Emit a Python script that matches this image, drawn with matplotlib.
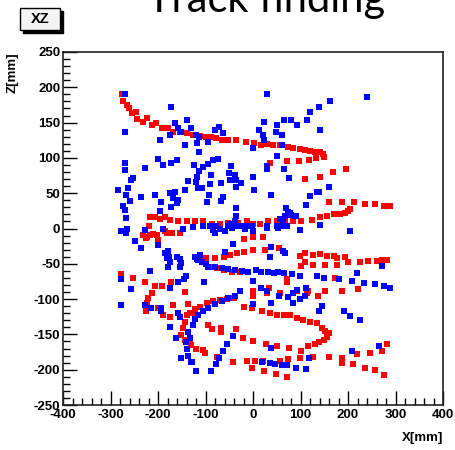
import matplotlib
matplotlib.use('Agg')
import matplotlib.pyplot as plt
from matplotlib.patches import Rectangle
from matplotlib.ticker import MultipleLocator
import numpy as np

plt.rcParams['axes.unicode_minus'] = False

# hits in the XZ plane, (x [mm], z [mm])
red_hits = [
    (-276, 190), (-273, 180), (-265, 175), (-262, 170), (-255, 163), (-246, 165), (-245, 155),
    (-231, 151), (-224, 156), (-213, 147), (-204, 149), (-192, 142), (-178, 142), (-169, 137),
    (-154, 137), (-140, 135), (-126, 133), (-112, 131), (-99, 130), (-88, 129), (-78, 128),
    (-65, 126), (-53, 125), (-36, 125), (-15, 123), (2, 121), (16, 118), (29, 120), (43, 118),
    (57, 118), (74, 116), (85, 114), (99, 113), (109, 111), (120, 110), (131, 109), (141, 108),
    (148, 105), (149, 101),
    (36, 93), (71, 95), (97, 95), (118, 97), (133, 100),
    (109, 70), (142, 73), (168, 80), (196, 84),
    (159, 37), (187, 37), (212, 37), (236, 34), (257, 34), (275, 32), (288, 32),
    (142, 16), (156, 18), (170, 20), (184, 20), (194, 22), (201, 25), (205, 27),
    (-217, 16), (-206, 16), (-196, 14), (-185, 16), (-175, 12), (-157, 10), (-140, 11),
    (-122, 10), (-105, 10), (-87, 6), (-69, 7), (-52, 8), (-31, 8), (-13, 10), (1, 7), (15, 7),
    (32, 10), (50, 10), (67, 12), (85, 11), (102, 11), (124, 12),
    (-231, -9), (-224, -12), (-217, -9), (-210, -8), (-203, -9), (-220, 4), (-199, -19),
    (-182, -7), (-171, -6), (-154, -6), (-225, -14), (-200, -16), (-186, -4),
    (-19, -15), (1, -12), (20, -12),
    (55, -27), (25, -30), (1, -30), (-20, -33), (-34, -35), (-48, -38), (-62, -40), (-80, -42),
    (-98, -42), (-112, -44),
    (-91, -54), (-76, -56), (-62, -59), (-45, -61), (-27, -61),
    (99, -39), (127, -37), (142, -36), (155, -39), (170, -39), (176, -42), (194, -41), (201, -48),
    (226, -48), (243, -46), (261, -46), (272, -44), (282, -44),
    (102, -53), (127, -52), (152, -51), (177, -51), (109, -35), (109, -47),
    (135, -67), (173, -70), (116, -89), (152, -88), (187, -88), (222, -86),
    (71, -71), (71, -76), (34, -84), (1, -89), (1, -96), (29, -91), (57, -91), (92, -89),
    (114, -92), (137, -95),
    (-277, -65), (-253, -70), (-228, -76), (-207, -82), (-191, -81), (-172, -76), (-144, -90),
    (-168, -109), (-137, -107), (-213, -92), (-221, -99), (-223, -106), (-219, -113),
    (-226, -117), (-200, -113), (-189, -122), (-175, -126),
    (-140, -122), (-126, -120), (-144, -132), (-147, -141), (-151, -151), (-144, -158),
    (-130, -165), (-133, -120), (-122, -114), (-112, -111), (-97, -106), (-84, -103),
    (-69, -101), (-55, -100), (-41, -98),
    (-20, -111), (-3, -113), (18, -117), (36, -119), (51, -122), (66, -123), (78, -123),
    (92, -127), (106, -130), (120, -132), (134, -134), (145, -141), (152, -145), (159, -148),
    (156, -153), (149, -158), (138, -161),
    (131, -164), (116, -166), (102, -173), (76, -169), (51, -166), (27, -163), (-1, -159),
    (-22, -155), (-36, -142), (-68, -141), (-68, -147), (-87, -142), (-94, -137),
    (-133, -160), (-119, -170), (-105, -172), (-101, -177),
    (-76, -182), (-43, -189), (-13, -188), (4, -188), (22, -188), (-3, -197), (23, -202),
    (48, -206), (71, -211), (57, -187), (74, -185), (99, -184), (127, -182),
    (159, -182), (187, -184), (187, -190), (211, -192), (236, -197), (257, -201), (275, -208),
    (282, -164), (272, -173), (247, -176), (219, -178),
]

blue_hits = [
    (-270, 191), (30, 191), (240, 186), (163, 180), (-173, 172), (138, 172), (121, 165),
    (-270, 137), (-165, 149), (-158, 142), (-151, 137), (-175, 133), (-140, 154), (-130, 142),
    (-196, 125), (-144, 118), (-80, 139), (-71, 144), (-64, 135), (-120, 133), (-113, 130),
    (-117, 121), (-113, 109), (-94, 123), (-1, 114),
    (66, 154), (79, 154), (93, 147), (113, 154), (51, 147), (23, 151), (140, 139), (48, 137),
    (62, 132), (13, 139), (20, 132), (23, 125), (62, 118),
    (-200, 99), (-189, 90), (-172, 93), (-161, 97), (-270, 93), (-270, 83), (-228, 85),
    (-253, 71), (-256, 69), (-137, 67),
    (-74, 99), (-84, 97), (-95, 92), (-105, 87), (-113, 82), (-117, 73), (-120, 66), (-115, 58),
    (-108, 57), (-91, 63), (-89, 76), (-68, 65), (-47, 88), (-50, 78), (-38, 76), (-36, 69),
    (-26, 65), (-36, 59), (-48, 68), (-124, 90), (-1, 73), (2, 55),
    (51, 102), (30, 88), (30, 84), (65, 84), (76, 71),
    (-284, 55), (-263, 58), (-267, 47), (-235, 44), (-207, 47), (-175, 50), (-165, 52),
    (-168, 43), (-158, 40), (-161, 36), (-172, 31), (-193, 38), (-144, 55), (-260, 39),
    (-274, 32), (-270, 26), (-267, 15), (-196, 25),
    (-92, 47), (-96, 37), (-68, 39), (-64, 44), (-36, 29), (-36, 18), (37, 47),
    (121, 46), (138, 52), (112, 33), (159, 59), (135, 52),
    (69, 29), (78, 22), (91, 18), (67, 18), (64, 12), (74, 24), (81, 19), (88, 17), (57, 14),
    (51, 3), (60, 3), (71, 3), (30, 3), (-3, 3), (-20, 3), (-27, 3), (-43, 7), (-52, 3),
    (-78, 3), (-105, 3), (-126, 2),
    (-91, 3), (-84, -2), (-69, 0), (-80, -6), (-59, -4), (-48, 7), (-38, 10), (-34, 3),
    (-13, 3), (1, -4), (29, 1), (53, 1), (99, -2), (142, 5), (205, -3), (-17, -1), (-45, 1),
    (-277, -4), (-265, -1), (-268, -7), (-228, -2), (-189, 0), (-147, 0),
    (-249, -18), (-235, -27), (-200, -24), (-186, -34), (-179, -32), (-182, -42), (-177, -41),
    (-175, -48), (-179, -55), (-161, -40), (-153, -43), (-151, -49), (-153, -55), (-217, -60),
    (-277, -71), (-256, -86), (-175, -84), (-158, -76), (-146, -71), (-142, -67),
    (-43, -22), (-59, -33), (38, -26), (36, -41), (64, -32), (67, -35),
    (-122, -40), (-115, -45), (-108, -48), (-100, -50), (-112, -38), (-118, -43),
    (-95, -54), (-81, -55), (-66, -56), (-52, -58), (-38, -59), (-24, -60), (-10, -61),
    (7, -59), (17, -61), (31, -61), (45, -63), (53, -61), (66, -63), (83, -65), (99, -67),
    (134, -67),
    (272, -53), (219, -63), (149, -70), (180, -72), (208, -74), (233, -77), (257, -79),
    (275, -81), (289, -84),
    (-103, -76), (-1, -74), (16, -84), (30, -89), (55, -95), (74, -97), (85, -92), (92, -87),
    (99, -100), (85, -105), (112, -84), (109, -95),
    (-27, -89), (-38, -95), (-52, -98), (-66, -103), (-80, -107), (-94, -112), (-105, -117),
    (-115, -122), (-122, -128), (-127, -137), (1, -107), (37, -105),
    (145, -110), (138, -117), (191, -117), (205, -124), (226, -129),
    (-277, -109), (-228, -109), (-214, -112), (-193, -112), (-193, -117), (-158, -120),
    (-153, -126), (-175, -140), (-163, -155), (-137, -147), (-142, -161), (-132, -155),
    (-139, -171), (-137, -180), (-151, -183), (-130, -189),
    (-43, -152), (-54, -164), (-63, -173), (-71, -183), (-78, -192), (-89, -202), (-120, -202),
    (-129, -189),
    (37, -169), (18, -189), (35, -190), (46, -192), (60, -194), (71, -194), (91, -197),
    (112, -199), (118, -183),
    (265, -166), (208, -173),
]

red = np.array(red_hits, dtype=float)
blue = np.array(blue_hits, dtype=float)

fig = plt.figure(figsize=(4.55, 4.5), dpi=100)
ax = fig.add_axes([63/455, 1-405/450, 380/455, 353/450])

ax.plot(red[:, 0], red[:, 1], 's', color='#ff0000', ms=4.0, mew=0, ls='none')
ax.plot(blue[:, 0], blue[:, 1], 's', color='#0000ff', ms=4.0, mew=0, ls='none')

ax.set_xlim(-400, 400)
ax.set_ylim(-250, 250)
ax.xaxis.set_major_locator(MultipleLocator(100))
ax.xaxis.set_minor_locator(MultipleLocator(20))
ax.yaxis.set_major_locator(MultipleLocator(50))
ax.yaxis.set_minor_locator(MultipleLocator(10))
ax.tick_params(which='both', direction='in', top=False, right=False, width=1.0)
ax.tick_params(which='major', length=10)
ax.tick_params(which='minor', length=5)
ax.tick_params(axis='x', pad=3)
ax.tick_params(axis='y', pad=2)
for lab in ax.get_xticklabels() + ax.get_yticklabels():
    lab.set_fontfamily('Liberation Sans')
    lab.set_fontweight('bold')
    lab.set_fontsize(9.5)
for sp in ax.spines.values():
    sp.set_linewidth(1.2)
    sp.set_color('#222222')

# axis titles, ROOT style
fig.text(443/455, 1-438/450, 'X[mm]', ha='right', va='center',
         family='Liberation Sans', weight='bold', fontsize=9.5)
fig.text(13/455, 1-52/450, 'Z[mm]', ha='center', va='top', rotation=90,
         family='Liberation Sans', weight='bold', fontsize=9.5)

# "XZ" title box with shadow
fig.patches.append(Rectangle((23/455, 1-33/450), 40/455, 22/450, transform=fig.transFigure,
                             facecolor='black', edgecolor='black', zorder=1))
fig.patches.append(Rectangle((20/455, 1-30/450), 40/455, 22/450, transform=fig.transFigure,
                             facecolor='#f4f4f4', edgecolor='black', lw=1.0, zorder=2))
fig.text(40/455, 1-19/450, 'XZ', ha='center', va='center',
         family='Liberation Sans', weight='bold', fontsize=10.5, zorder=3)

# slide title, cut at the top edge
fig.text(266/455, 1-12/450, 'Track finding', ha='center', va='baseline',
         family='Lato', fontsize=30)

fig.savefig('out.png', dpi=100)
